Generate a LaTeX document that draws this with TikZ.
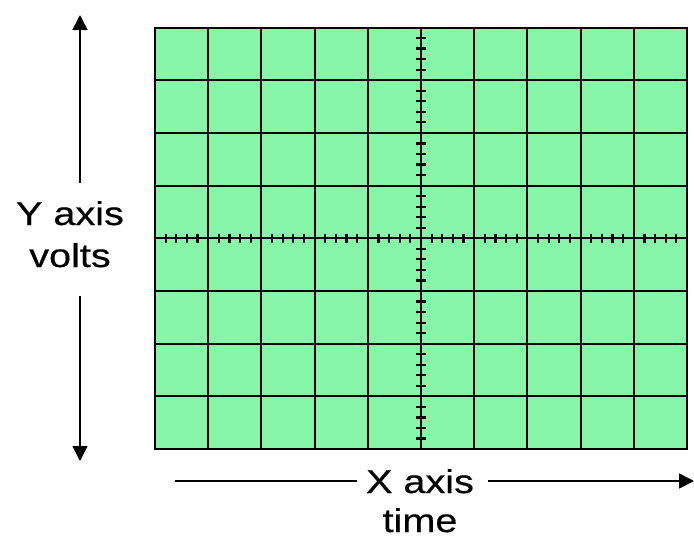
\documentclass[tikz,border=0pt]{standalone}
\usepackage{fontspec}
\setmainfont{Liberation Sans}[FakeStretch=1.2,FakeBold=0.5]
\usetikzlibrary{arrows.meta}
\definecolor{scopegreen}{RGB}{134,245,168}
\tikzset{
  gridline/.style={draw=black, line width=2pt},
  tickline/.style={draw=black, line width=2.2pt},
  axisarrow/.style={draw=black, line width=1.6pt, -{Triangle[width=15pt,length=15pt]}},
  axislabel/.style={font=\fontsize{33}{40}\selectfont, anchor=base, inner sep=0pt}
}
\begin{document}
\begin{tikzpicture}[x=1pt,y=-1pt]
\useasboundingbox[fill=white] (0,0) rectangle (694,539);
% screen
\fill[scopegreen] (155,27.5) rectangle (687,449);
\foreach \i in {1,...,9} \draw[gridline] ({155+\i*53.2},27.5) -- ({155+\i*53.2},449);
\foreach \j in {1,...,7} \draw[gridline] (155,{27.5+\j*52.7}) -- (687,{27.5+\j*52.7});
\draw[gridline] (155,27.5) rectangle (687,449);
% ticks on horizontal centre line
\foreach \i in {0,...,9}
  \foreach \k in {1,...,4}
    \draw[tickline] ({155+\i*53.2+\k*10.64},{238.3-4.8}) -- ({155+\i*53.2+\k*10.64},{238.3+4.8});
% ticks on vertical centre line
\foreach \j in {0,...,7}
  \foreach \k in {1,...,4}
    \draw[tickline] ({421-4.8},{27.5+\j*52.7+\k*10.54}) -- ({421+4.8},{27.5+\j*52.7+\k*10.54});
% labels
\node[axislabel] (yaxis) at (70,225) {Y axis};
\node[axislabel] (yvolts) at (70,267) {volts};
\node[axislabel] (xaxis) at (420,493) {X axis};
\node[axislabel] (xtime) at (420,532) {time};
% arrows
\coordinate (ytopstart) at (80,183);
\coordinate (ytop) at (80,15);
\coordinate (ybotstart) at (80,296);
\coordinate (ybot) at (80,461);
\coordinate (xleft) at (175,481);
\coordinate (xleftend) at (357,481);
\coordinate (xrightstart) at (488,481);
\coordinate (xright) at (694,481);
\draw[axisarrow] (ytopstart) -- (ytop);
\draw[axisarrow] (ybotstart) -- (ybot);
\draw[draw=black, line width=1.6pt] (xleft) -- (xleftend);
\draw[axisarrow] (xrightstart) -- (xright);
\end{tikzpicture}
\end{document}
